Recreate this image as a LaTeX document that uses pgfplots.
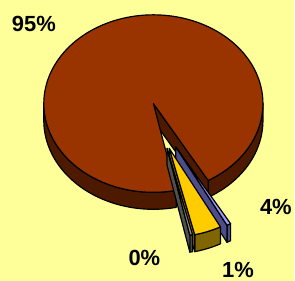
\documentclass[border=0pt]{standalone}
\usepackage{pgfplots}
\pgfplotsset{compat=1.18}
\usepackage{pgfplotstable}
\usepackage{fontspec}
\setmainfont{Liberation Sans}
\definecolor{bg}{RGB}{255,255,153}
\definecolor{brownTop}{RGB}{153,51,0}
\definecolor{brownSide}{RGB}{77,26,0}
\definecolor{greyTop}{RGB}{150,150,150}
\definecolor{greySide}{RGB}{80,80,80}
\definecolor{goldTop}{RGB}{255,204,0}
\definecolor{goldSide}{RGB}{128,102,0}
\definecolor{blueTop}{RGB}{153,153,255}
\definecolor{blueSide}{RGB}{77,77,140}

\pgfplotstableread{
slice value
Main 95
Zero 0.4
Four 4.0
One 0.6
}\piedata

\newcommand\getv[2]{\pgfplotstablegetelem{#1}{value}\of\piedata\let#2\pgfplotsretval}
\newcommand\lw{1.2pt}
\newcommand\ry{0.81}
\newcommand\hh{0.155}
\newcommand\lab{\fontsize{22bp}{26bp}\selectfont\bfseries}

% top face of a slice: start, end, dx, dy, N, colour
\newcommand\pieTop[6]{%
\pgfmathsetmacro\sstep{((#2)-(#1))/#5}%
\pgfmathtruncatemacro\nmax{#5+2}%
\pgfmathtruncatemacro\nsmp{#5+3}%
\edef\tmp{\noexpand\addplot[fill=#6, draw=black, line width=\lw, line join=round, variable=\noexpand\uu, domain=0:\nmax, samples=\nsmp]
 ({(#3)+(\noexpand\uu>0.5)*(\noexpand\uu<#5+1.5)*cos((#1)+(\noexpand\uu-1)*\sstep)},
  {(#4)+(\noexpand\uu>0.5)*(\noexpand\uu<#5+1.5)*\ry*sin((#1)+(\noexpand\uu-1)*\sstep)}) -- cycle;}%
\tmp}
% outer side wall: start, end, dx, dy, N, colour
\newcommand\pieBand[6]{%
\pgfmathsetmacro\sstep{((#2)-(#1))/#5}%
\pgfmathtruncatemacro\nmax{2*#5+1}%
\pgfmathtruncatemacro\nsmp{2*#5+2}%
\edef\tmp{\noexpand\addplot[fill=#6, draw=black, line width=\lw, line join=round, variable=\noexpand\uu, domain=0:\nmax, samples=\nsmp]
 ({(#3)+cos((#1)+(\noexpand\uu<#5+0.5)*\noexpand\uu*\sstep+(\noexpand\uu>#5+0.5)*(((#2)-(#1))-(\noexpand\uu-#5-1)*\sstep))},
  {(#4)+\ry*sin((#1)+(\noexpand\uu<#5+0.5)*\noexpand\uu*\sstep+(\noexpand\uu>#5+0.5)*(((#2)-(#1))-(\noexpand\uu-#5-1)*\sstep))-(\noexpand\uu>#5+0.5)*\hh}) -- cycle;}%
\tmp}
% radial cut face: angle, dx, dy, colour
\newcommand\pieCut[4]{%
\edef\tmp{\noexpand\addplot[fill=#4, draw=black, line width=\lw, line join=round, variable=\noexpand\uu, domain=0:3, samples=4]
 ({(#2)+(\noexpand\uu>0.5)*(\noexpand\uu<2.5)*cos(#1)},
  {(#3)+(\noexpand\uu>0.5)*(\noexpand\uu<2.5)*\ry*sin(#1)-(\noexpand\uu>1.5)*\hh}) -- cycle;}%
\tmp}

\getv{0}\vA\getv{1}\vB\getv{2}\vC\getv{3}\vD
\pgfmathsetmacro\aS{-60}
\pgfmathsetmacro\aA{\aS+3.6*\vA}
\pgfmathsetmacro\aB{\aA+3.6*\vB}
\pgfmathsetmacro\aC{\aB+3.6*\vC}
\pgfmathsetmacro\aD{\aC+3.6*\vD}
% explode offsets of the three small slices
\def\xB{0.125}\def\yB{-0.409}
\def\xC{0.145}\def\yC{-0.409}
\def\xD{0.205}\def\yD{-0.395}
\pgfmathtruncatemacro\nA{\aA-\aS+4}
\pgfmathtruncatemacro\nL{\aA-180+4}
\pgfmathtruncatemacro\nR{0-\aS+4}
\pgfmathtruncatemacro\nB{\aB-\aA+4}
\pgfmathtruncatemacro\nC{\aC-\aB+4}
\pgfmathtruncatemacro\nD{\aD-\aC+4}

\begin{document}%
\begin{tikzpicture}
\begin{axis}[width=295bp, height=282bp, scale only axis,
  xmin=-1.4, xmax=1.28182, ymin=-1.61818, ymax=0.94545,
  axis lines=none, xtick=\empty, ytick=\empty, clip=false]
\addplot[fill=bg, draw=none] coordinates {(-1.4,-1.61818) (1.28182,-1.61818) (1.28182,0.94545) (-1.4,0.94545)} -- cycle;
% main slice
\pieBand{180}{\aA}{0}{0}{\nL}{brownSide}
\pieBand{\aS}{0}{0}{0}{\nR}{brownSide}
\pieCut{\aS}{0}{0}{brownSide}
\pieTop{\aS}{\aA}{0}{0}{\nA}{brownTop}
% exploded slices
\pieBand{\aC}{\aD}{\xD}{\yD}{\nD}{blueSide}
\pieCut{\aC}{\xD}{\yD}{blueSide}
\pieTop{\aC}{\aD}{\xD}{\yD}{\nD}{blueTop}
\pieBand{\aB}{\aC}{\xC}{\yC}{\nC}{goldSide}
\pieCut{\aB}{\xC}{\yC}{goldSide}
\pieTop{\aB}{\aC}{\xC}{\yC}{\nC}{goldTop}
\pieBand{\aA}{\aB}{\xB}{\yB}{\nB}{greySide}
\pieCut{\aA}{\xB}{\yB}{greySide}
\pieTop{\aA}{\aB}{\xB}{\yB}{\nB}{greyTop}
% labels
\node[font=\lab] at (axis cs:-1.091,0.727) {95\%};
\node[font=\lab] at (axis cs:1.118,-0.945) {4\%};
\node[font=\lab] at (axis cs:-0.082,-1.409) {0\%};
\node[font=\lab] at (axis cs:0.773,-1.518) {1\%};
\end{axis}
\end{tikzpicture}%
\end{document}
